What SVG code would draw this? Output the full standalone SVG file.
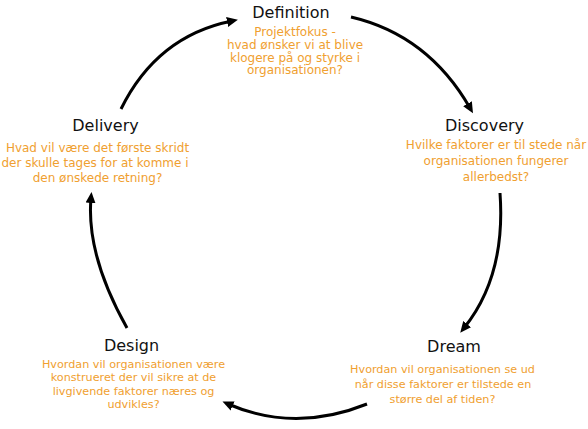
<svg xmlns="http://www.w3.org/2000/svg" width="588" height="429" viewBox="0 0 588 429">
<style>
.t{font-family:"DejaVu Sans",Verdana,sans-serif;font-size:16px;fill:#111;text-anchor:middle}
.d{font-family:"DejaVu Sans",Verdana,sans-serif;font-size:12px;fill:#F0A030;text-anchor:middle}
.s{font-size:11.2px}
.c{fill:none;stroke:#000;stroke-width:3;marker-end:url(#ah)}
</style>
<defs>
<marker id="ah" markerWidth="12" markerHeight="10" refX="5" refY="5" orient="auto" markerUnits="userSpaceOnUse"><path d="M0,0 L11,5 L0,10 z" fill="#000"/></marker>
</defs>
<rect width="588" height="429" fill="#fff"/>
<g id="connectors">
<path class="c" d="M121,109 Q157,36 232,21"/>
<path class="c" d="M351,17 Q428,35 470,108"/>
<path class="c" d="M500,193 Q506,276 464,328"/>
<path class="c" d="M367,404 Q295,433 228,404"/>
<path class="c" d="M127,328 Q86,255 91,198"/>
</g>
<g id="definition">
<text class="t" x="291" y="18">Definition</text>
<text class="d" x="295" y="36">Projektfokus -</text>
<text class="d" x="295" y="48.5">hvad ønsker vi at blive</text>
<text class="d" x="295" y="61.5">klogere på og styrke i</text>
<text class="d" x="295" y="74">organisationen?</text>
</g>
<g id="discovery">
<text class="t" x="484.5" y="131">Discovery</text>
<text class="d" x="496" y="149">Hvilke faktorer er til stede når</text>
<text class="d" x="496" y="165">organisationen fungerer</text>
<text class="d" x="496" y="181">allerbedst?</text>
</g>
<g id="delivery">
<text class="t" x="105.5" y="131">Delivery</text>
<text class="d" x="97.5" y="152">Hvad vil være det første skridt</text>
<text class="d" x="95" y="167">der skulle tages for at komme i</text>
<text class="d" x="97.5" y="182">den ønskede retning?</text>
</g>
<g id="design">
<text class="t" x="131.5" y="351">Design</text>
<text class="d s" x="133.5" y="368">Hvordan vil organisationen være</text>
<text class="d s" x="133.5" y="381">konstrueret der vil sikre at de</text>
<text class="d s" x="133.5" y="394.5">livgivende faktorer næres og</text>
<text class="d s" x="133.5" y="407.5">udvikles?</text>
</g>
<g id="dream">
<text class="t" x="454" y="352">Dream</text>
<text class="d s" x="442.5" y="373">Hvordan vil organisationen se ud</text>
<text class="d s" x="443" y="388">når disse faktorer er tilstede en</text>
<text class="d s" x="442.5" y="403">større del af tiden?</text>
</g>
</svg>
